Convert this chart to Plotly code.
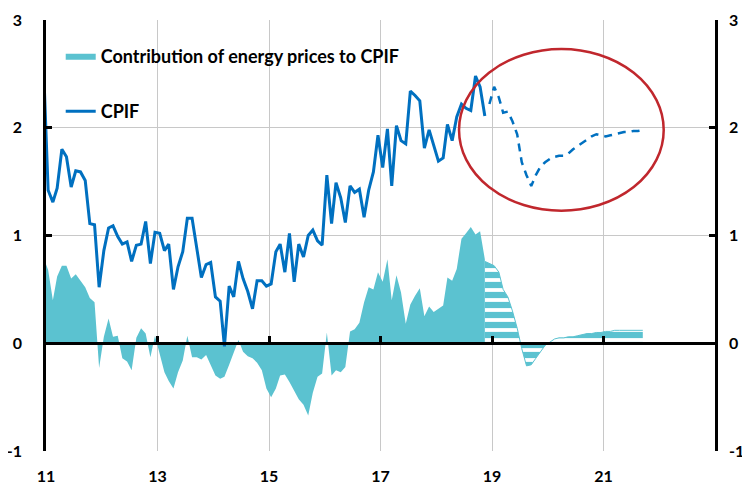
import plotly.graph_objects as go
import pandas as pd

# ---------------- data (monthly) ----------------
# Outcome: Dec 2010 .. Nov 2018
cpif_outcome = [
    2.60,
    1.42, 1.31, 1.44, 1.80, 1.73, 1.45, 1.60, 1.59, 1.51, 1.11,
    1.10, 0.52, 0.86, 1.07, 1.09, 0.99, 0.92, 0.94, 0.76, 0.91,
    0.92, 1.13, 0.74, 1.03, 1.02, 0.86, 0.92, 0.50, 0.71, 0.85,
    1.16, 1.16, 0.88, 0.61, 0.73, 0.75, 0.43, 0.39, -0.03, 0.53,
    0.43, 0.76, 0.60, 0.48, 0.32, 0.58, 0.58, 0.53, 0.55, 0.85,
    0.92, 0.66, 1.02, 0.57, 0.92, 0.80, 1.00, 1.05, 0.95, 0.91,
    1.56, 1.11, 1.49, 1.35, 1.12, 1.46, 1.40, 1.43, 1.17, 1.42,
    1.59, 1.93, 1.63, 1.99, 1.46, 2.02, 1.88, 1.85, 2.34, 2.30,
    2.25, 1.81, 1.98, 1.84, 1.69, 1.72, 2.03, 1.88, 2.10, 2.22,
    2.18, 2.16, 2.48, 2.38, 2.11,
]
energy_outcome = [
    0.80,
    0.68, 0.40, 0.62, 0.72, 0.72, 0.60, 0.64, 0.58, 0.52, 0.42,
    0.38, -0.23, 0.06, 0.23, 0.06, 0.07, -0.14, -0.17, -0.25, 0.05,
    0.14, 0.09, -0.13, 0.07, -0.11, -0.27, -0.35, -0.42, -0.27, -0.16,
    0.07, -0.13, -0.13, -0.15, -0.11, -0.20, -0.30, -0.33, -0.31, -0.20,
    -0.08, 0.03, -0.08, -0.12, -0.14, -0.18, -0.25, -0.42, -0.50, -0.42,
    -0.30, -0.29, -0.36, -0.44, -0.52, -0.57, -0.67, -0.46, -0.31, -0.28,
    0.10, -0.30, -0.25, -0.27, -0.22, 0.11, 0.13, 0.19, 0.38, 0.52,
    0.50, 0.66, 0.57, 0.78, 0.40, 0.63, 0.47, 0.18, 0.36, 0.44,
    0.51, 0.25, 0.34, 0.29, 0.32, 0.35, 0.61, 0.58, 0.69, 0.97,
    1.02, 1.08, 1.01, 1.04, 0.78,
]
# Forecast CPIF: Dec 2018 .. Sep 2021
cpif_forecast = [
    2.22, 2.38, 2.28, 2.14, 2.15, 2.06, 1.94, 1.68, 1.56, 1.46,
    1.56, 1.64, 1.68, 1.71, 1.73, 1.74, 1.74, 1.76, 1.80, 1.83,
    1.86, 1.89, 1.92, 1.94, 1.93, 1.92, 1.93, 1.94, 1.95, 1.96,
    1.96, 1.97, 1.97, 1.98,
]
# Forecast energy contribution: Nov 2018 .. Sep 2021
energy_forecast = [
    0.76, 0.74, 0.72, 0.66, 0.50, 0.43, 0.30, 0.14, -0.05, -0.21,
    -0.20, -0.14, -0.08, -0.02, 0.01, 0.04, 0.05, 0.05, 0.06, 0.06,
    0.07, 0.08, 0.09, 0.09, 0.10, 0.10, 0.11, 0.11, 0.12, 0.12,
    0.12, 0.12, 0.12, 0.12, 0.12,
]
x_tick_dates = ['2011-01-01', '2013-01-01', '2015-01-01', '2017-01-01', '2019-01-01', '2021-01-01']
x_tick_labels = ['11', '13', '15', '17', '19', '21']
y_ticks = [-1, 0, 1, 2, 3]
y_tick_labels = ['-1', '0', '1', '2', '3']

mid = pd.Timedelta(days=14)
outcome_months = pd.date_range('2010-12-01', periods=len(cpif_outcome), freq='MS') + mid
cpif_fc_months = pd.date_range('2018-12-01', periods=len(cpif_forecast), freq='MS') + mid
energy_fc_months = pd.date_range('2018-11-01', periods=len(energy_forecast), freq='MS') + mid

TEAL = '#5BC2D0'
BLUE = '#0070C0'
RED = '#C0272D'
GRID = '#C8C8C8'
FAM = 'Lato, Carlito, Arial, sans-serif'
TICKFONT = dict(family=FAM, size=16, color='black', weight='bold')

fig = go.Figure()

fig.add_trace(go.Scatter(
    x=energy_fc_months, y=energy_forecast, mode='lines', fill='tozeroy',
    line=dict(color=TEAL, width=1), fillcolor='rgba(0,0,0,0)',
    fillpattern=dict(shape='-', size=10, solidity=0.62, fgcolor=TEAL, bgcolor='white', fillmode='replace'),
    showlegend=False, hoverinfo='skip'))

fig.add_trace(go.Scatter(
    x=outcome_months, y=energy_outcome, mode='lines', fill='tozeroy',
    line=dict(color=TEAL, width=0), fillcolor=TEAL,
    name='Contribution of energy prices to CPIF', legendgroup='a'))

fig.add_trace(go.Scatter(
    x=outcome_months, y=cpif_outcome, mode='lines',
    line=dict(color=BLUE, width=3), name='CPIF', legendgroup='b'))

fig.add_trace(go.Scatter(
    x=cpif_fc_months, y=cpif_forecast, mode='lines',
    line=dict(color=BLUE, width=2.5, dash='8px,6px'), showlegend=False))

x_range = ['2011-01-01', '2023-01-01']

# the page body adds an 8px offset, so the figure is sized to fit the window
fig.update_layout(
    width=742, height=477,
    margin=dict(l=38, r=35, t=12, b=34),
    paper_bgcolor='white', plot_bgcolor='white',
    font=dict(family=FAM, size=16, color='black'),
    legend=dict(x=0.022, y=0.959, xanchor='left', yanchor='top',
                bgcolor='rgba(0,0,0,0)', tracegroupgap=29,
                font=dict(family=FAM, size=18, color='black', weight='bold'),
                itemwidth=30),
    xaxis=dict(type='date', range=x_range, tickvals=x_tick_dates, ticktext=x_tick_labels,
               showgrid=True, gridcolor=GRID, gridwidth=1, showline=False, ticks='',
               zeroline=False, ticklabelstandoff=14, automargin=False, tickfont=TICKFONT),
    xaxis2=dict(type='date', range=x_range, overlaying='x', anchor='free', position=0.25,
                tickvals=x_tick_dates[1:], showticklabels=False, showgrid=False,
                showline=True, linecolor='black', linewidth=3, automargin=False,
                ticks='inside', ticklen=6, tickwidth=2.5, tickcolor='black', zeroline=False),
    yaxis=dict(range=[-1, 3], tickvals=y_ticks, ticktext=y_tick_labels,
               showgrid=True, gridcolor=GRID, gridwidth=1,
               showline=True, linecolor='black', linewidth=2.5, ticks='inside', ticklen=6,
               tickwidth=2.5, tickcolor='black', zeroline=False, ticklabelstandoff=18,
               automargin=False, tickfont=TICKFONT),
    yaxis2=dict(range=[-1, 3], tickvals=y_ticks, ticktext=y_tick_labels,
                overlaying='y', side='right', anchor='x',
                showgrid=False, showline=True, linecolor='black', linewidth=2.5,
                ticks='inside', ticklen=6, tickwidth=2.5, tickcolor='black', zeroline=False,
                ticklabelstandoff=8, automargin=False, tickfont=TICKFONT),
    shapes=[dict(type='circle', xref='x', yref='y', x0='2018-05-30', x1='2022-01-30',
                 y0=1.23, y1=2.73, line=dict(color=RED, width=2.5), layer='above')],
)

# invisible trace to activate xaxis2 / yaxis2
fig.add_trace(go.Scatter(x=[x_range[0]], y=[0], xaxis='x2', yaxis='y2', mode='markers',
                         marker=dict(opacity=0), showlegend=False, hoverinfo='skip'))

fig.write_html('out.html')
